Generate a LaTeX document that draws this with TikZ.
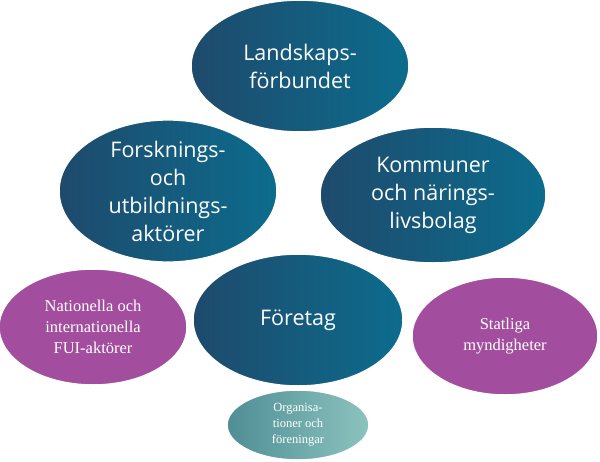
\documentclass[tikz,border=0pt]{standalone}
\usepackage{fontspec}
\setmainfont{Liberation Serif}
\newfontfamily\bigsans{Open Sans}
\usetikzlibrary{shapes.geometric}
\definecolor{dtl}{HTML}{1E4A6C}
\definecolor{dtr}{HTML}{0C6C8D}
\definecolor{purp}{HTML}{A24D9D}
\definecolor{ltl}{HTML}{4F8E95}
\definecolor{ltr}{HTML}{8CC3BF}
\begin{document}
\begin{tikzpicture}[x=1pt,y=-1pt,
  big/.style={ellipse,inner sep=0pt,left color=dtl,right color=dtr,draw=white,line width=1.5pt,text=white,align=center,font=\bigsans\fontsize{21.5}{28}\selectfont},
  pur/.style={ellipse,inner sep=0pt,fill=purp,draw=white,line width=1.5pt,text=white,align=center,font=\fontsize{16.5}{21}\selectfont},
  sml/.style={ellipse,inner sep=0pt,left color=ltl,right color=ltr,draw=white,line width=1.5pt,text=white,align=center,font=\fontsize{12.5}{16}\selectfont}]
\useasboundingbox (0,0) rectangle (600,461);
\node[pur,minimum width=188,minimum height=116] (nat) at (93,327) {Nationella och\\internationella\\FUI-aktörer};
\node[pur,minimum width=186,minimum height=118] (stat) at (505,336) {Statliga\\myndigheter};
\node[big,minimum width=218,minimum height=134] (fors) at (168,191) {Forsknings-\\och\\utbildnings-\\aktörer};
\node[big,minimum width=226,minimum height=136] (komm) at (433,195) {Kommuner\\och närings-\\livsbolag};
\node[big,minimum width=218,minimum height=132] (land) at (300,66) {Landskaps-\\förbundet};
\node[big,minimum width=210,minimum height=132] (for) at (298,320) {Företag};
\node[sml,minimum width=142,minimum height=70] (org) at (298,425) {Organisa-\\tioner och\\föreningar};
\end{tikzpicture}
\end{document}
